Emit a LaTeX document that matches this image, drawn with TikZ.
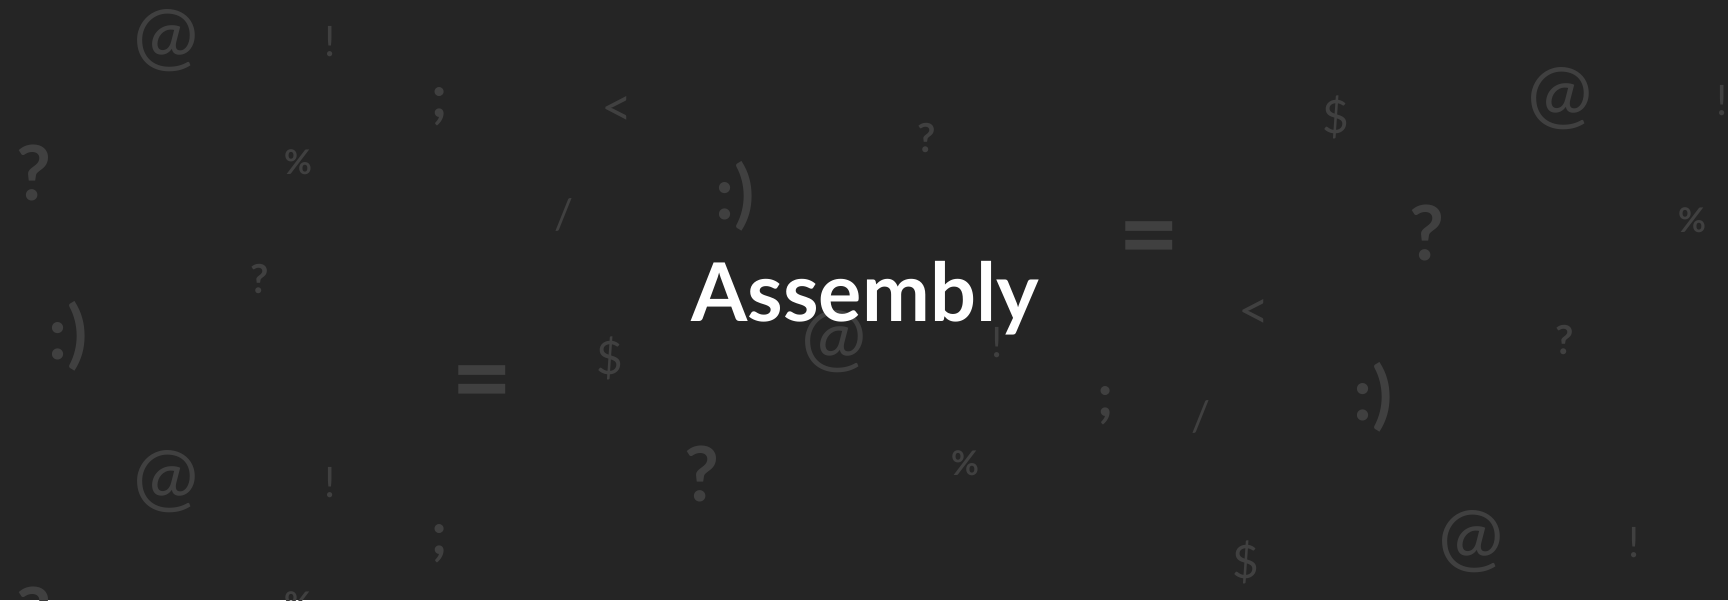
\documentclass[tikz,border=0pt]{standalone}
\usepackage{fontspec}
\setmainfont{Lato}
\definecolor{bgdark}{HTML}{252525}
\definecolor{symgrey}{HTML}{404040}
\tikzset{
  glyph/.style={text=symgrey, inner sep=0pt, anchor=center},
  sym-at/.style={glyph, font=\fontsize{78}{78}\selectfont, node contents={@}},
  sym-excl/.style={glyph, font=\fontsize{42}{42}\selectfont, node contents={!}},
  sym-semi/.style={glyph, font=\bfseries\fontsize{60}{60}\selectfont, node contents={;}},
  sym-lt/.style={glyph, font=\fontsize{54}{54}\selectfont, node contents={<}},
  sym-qs/.style={glyph, font=\bfseries\fontsize{40}{40}\selectfont, node contents={?}},
  sym-ql/.style={glyph, font=\bfseries\fontsize{76}{76}\selectfont, node contents={?}},
  sym-dollar/.style={glyph, font=\fontsize{46}{46}\selectfont, node contents={\$}},
  sym-pct/.style={glyph, font=\bfseries\fontsize{34}{34}\selectfont, node contents={\%}},
  sym-smile/.style={glyph, font=\bfseries\fontsize{74}{74}\selectfont, node contents={:)}},
  sym-slash/.style={glyph, font=\fontsize{42}{42}\selectfont, node contents={/}},
  sym-eq/.style={glyph, font=\bfseries\fontsize{106}{106}\selectfont, node contents={=}},
  title/.style={text=white, inner sep=0pt, anchor=base, font=\bfseries\fontsize{81}{81}\selectfont}
}
\begin{document}
\begin{tikzpicture}[x=1pt, y=-1pt]
  \useasboundingbox (0,0) rectangle (1728,600);
  \fill[bgdark] (0,0) rectangle (1728,600);

  % scattered symbols
  \foreach \kind/\x/\y [count=\i] in {
      at/166/41, excl/330/42, semi/440/107, lt/617/111, qs/927/138,
      dollar/1336/117, at/1560/99, excl/1722/101,
      ql/34/173, pct/298/162, smile/735/196, slash/564/215,
      eq/1149/247, ql/1427/233, pct/1692/220, qs/260/279,
      lt/1254/314, smile/68/336, dollar/610/358, at/834/342,
      excl/997/343, qs/1565/340, eq/482/391, semi/1106/406,
      slash/1201/417, smile/1373/397,
      at/166/482, excl/330/483, ql/702/474, pct/965/463,
      semi/440/544, dollar/1246/562, at/1471/542, excl/1634/543,
      ql/34/615, pct/298/604} {
    \node (s-\i) at (\x,\y) [sym-\kind];
  };

  \node[title] (title) at (865,321) {Assembly};
\end{tikzpicture}
\end{document}
